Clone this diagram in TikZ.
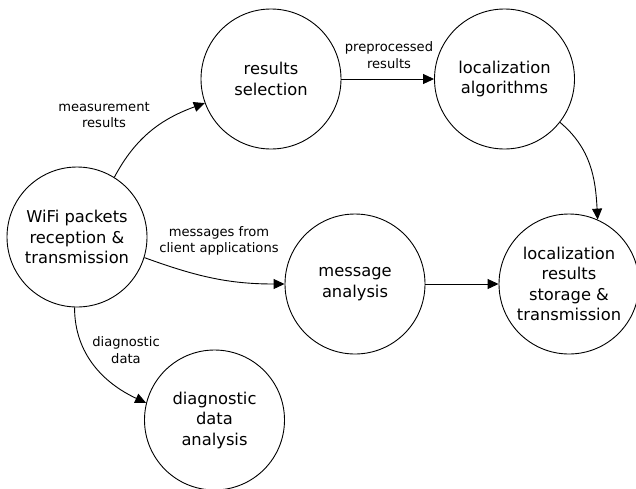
\documentclass[tikz,border=0pt]{standalone}
\usepackage{fontspec}
\setmainfont{DejaVu Sans}
\usetikzlibrary{arrows.meta}
\begin{document}
\begin{tikzpicture}[x=1pt,y=-1pt,
  state/.style={draw,circle,minimum size=140pt,inner sep=0pt,align=center,
    font=\fontsize{16.3}{20.5}\selectfont,line width=0.9pt},
  lab/.style={align=center,inner sep=0pt,font=\fontsize{13.1}{16.5}\selectfont},
  arr/.style={-{Triangle[length=11pt,width=10pt]},line width=0.9pt}]
\useasboundingbox (0,0) rectangle (636,488);
\node[state] (wifi) at (77,237) {WiFi packets\\reception \&\\transmission};
\node[state] (rs) at (271,79) {results\\selection};
\node[state] (la) at (504.5,79) {localization\\algorithms};
\node[state] (ma) at (355,284) {message\\analysis};
\node[state] (lr) at (569,284) {localization\\results\\storage \&\\transmission};
\node[state] (dda) at (214.5,420) {diagnostic\\data\\analysis};

\draw[arr] (wifi.58) to[out=62,in=200] (rs.200);
\draw[arr] (rs.east) -- (la.west);
\draw[arr] (la.-38) to[out=-40,in=93] (lr.66);
\draw[arr] (wifi.-17) to[out=-20,in=180] (ma.west);
\draw[arr] (ma.east) -- (lr.west);
\draw[arr] (wifi.-92) to[out=-90,in=155] (dda.166);

\node[lab] (l1) at (104,115) {measurement\\results};
\node[lab] (l2) at (389,55) {preprocessed\\results};
\node[lab] (l3) at (219,241) {messages from\\client applications};
\node[lab] (l4) at (126,350) {diagnostic\\data};
\end{tikzpicture}
\end{document}
